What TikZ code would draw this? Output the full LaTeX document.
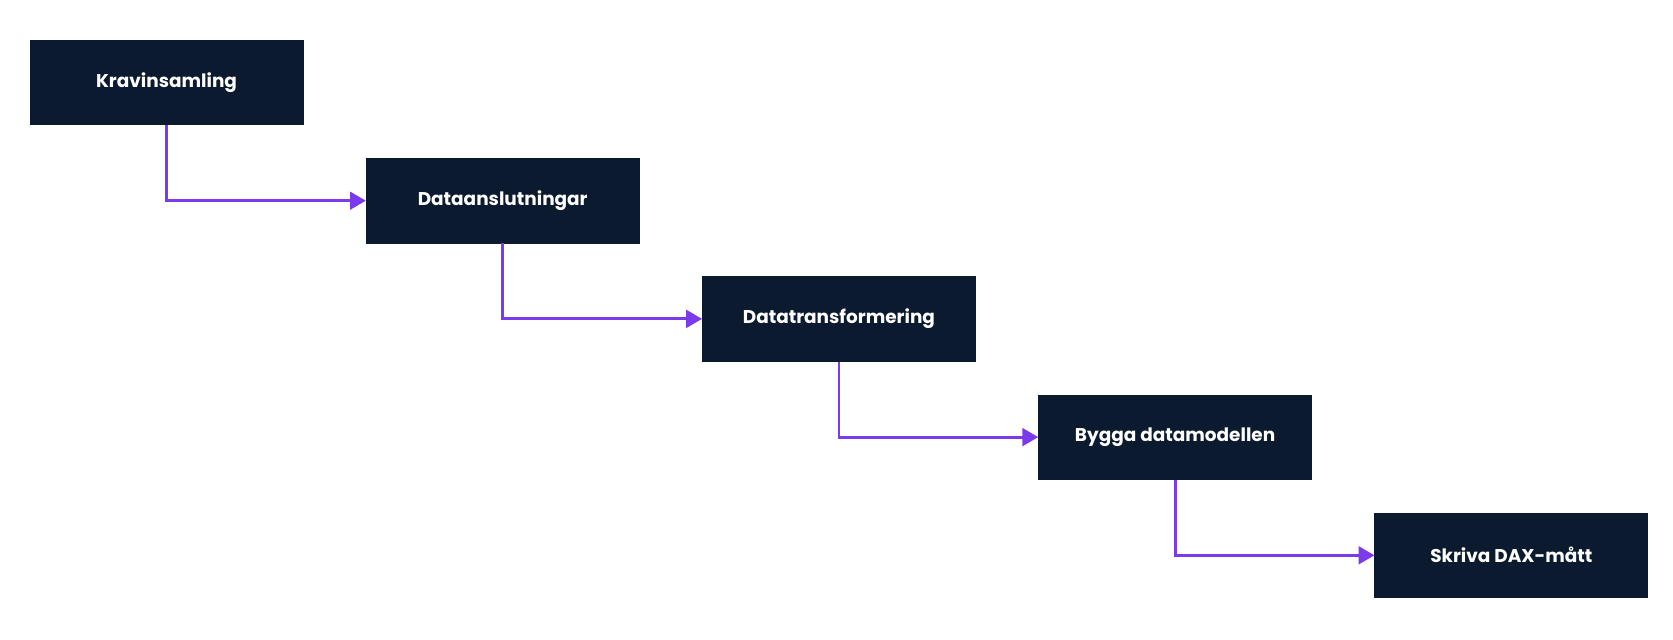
\documentclass[tikz,border=0pt]{standalone}
\usepackage{fontspec}
\setmainfont{Poppins}
\usetikzlibrary{positioning,arrows.meta}
\definecolor{boxnavy}{RGB}{11,26,46}
\definecolor{flowpurple}{RGB}{124,58,237}
\tikzset{
  stage/.style={draw=boxnavy, fill=boxnavy, text=white, minimum width=5.46cm,
    minimum height=1.69cm, inner sep=0pt, font=\fontsize{10.5}{13}\selectfont\bfseries},
  flow/.style={draw=flowpurple, line width=1.6pt, -{Triangle[length=9pt,width=10pt]}}
}
\begin{document}
\begin{tikzpicture}
      \useasboundingbox (0,0) rectangle (33.46,-12.8);
      \node[stage] (krav) at (3.33,-1.65) {Kravinsamling};
      \node[stage, below right=0.66cm and 1.25cm of krav.south east, anchor=north west] (anslut) {Dataanslutningar};
      \node[stage, below right=0.66cm and 1.25cm of anslut.south east, anchor=north west] (transf) {Datatransformering};
      \node[stage, below right=0.66cm and 1.25cm of transf.south east, anchor=north west] (modell) {Bygga datamodellen};
      \node[stage, below right=0.66cm and 1.25cm of modell.south east, anchor=north west] (dax) {Skriva DAX-mått};
      \draw[flow] (krav.south) |- (anslut.west);
      \draw[flow] (anslut.south) |- (transf.west);
      \draw[flow] (transf.south) |- (modell.west);
      \draw[flow] (modell.south) |- (dax.west);
\end{tikzpicture}
\end{document}
